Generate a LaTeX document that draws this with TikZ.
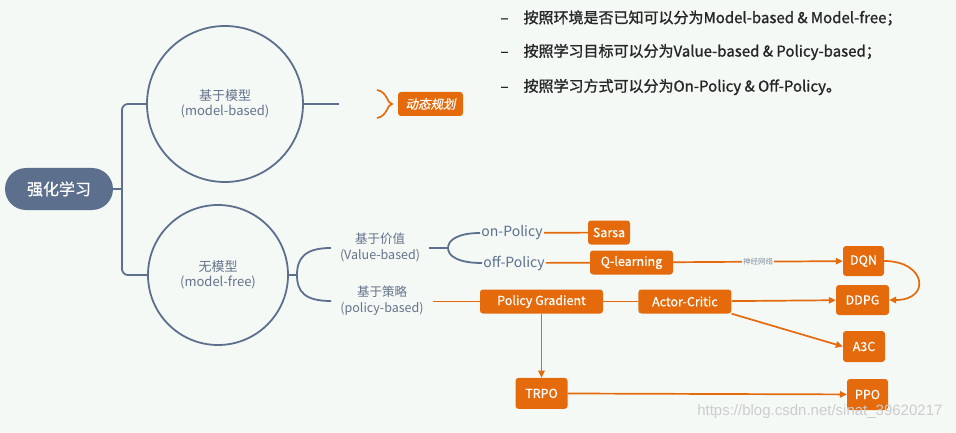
\documentclass[tikz,border=0pt]{standalone}
\usepackage{fontspec}
\setmainfont{Noto Sans CJK SC}
\newfontfamily\slantfont[FakeSlant=0.2, FakeBold=0.6]{Noto Sans CJK SC}
\newfontfamily\notefont[FakeBold=1.2]{Noto Sans CJK SC}
\newfontfamily\boxfont[FakeBold=0.7]{Noto Sans CJK SC}
\newfontfamily\urlfont{Liberation Sans}
\usetikzlibrary{arrows.meta, positioning}
\definecolor{bgcol}{RGB}{245,249,246}
\definecolor{slate}{RGB}{92,112,142}
\definecolor{slatetext}{RGB}{100,114,138}
\definecolor{rlorange}{RGB}{228,106,12}

\begin{document}
\begin{tikzpicture}[
    x=1pt, y=-1pt,
    every node/.style={font=\fontsize{12}{14}\selectfont},
    root/.style={fill=slate, text=white, rounded corners=21pt, minimum width=108pt, minimum height=42pt, font=\boxfont\fontsize{16}{18}\selectfont},
    branch/.style={circle, draw=slate, line width=1.8pt, text=slatetext, align=center, inner sep=0pt, font=\fontsize{13}{15}\selectfont},
    sub/.style={text=slatetext, align=center, inner sep=1pt, font=\fontsize{12.5}{16}\selectfont},
    way/.style={text=slate, inner sep=1pt, font=\fontsize{14}{15}\selectfont},
    algo/.style={fill=rlorange, text=white, rounded corners=3pt, minimum height=24pt, inner sep=2pt, font=\boxfont\fontsize{12.5}{14}\selectfont},
    link/.style={draw=slate, line width=1.8pt},
    oline/.style={draw=rlorange, line width=1.7pt},
    ar/.style={oline, -{Triangle[length=7pt, width=6.5pt]}},
    note/.style={anchor=west, text=black!85, font=\notefont\fontsize{15}{18}\selectfont}
]
\fill[bgcol] (0,0) rectangle (956,433);
\useasboundingbox (0,0) rectangle (956,433);
% ----- Notes top right -----
\node[note] (n1) at (497,18) {–\quad 按照环境是否已知可以分为Model-based \& Model-free；};
\node[note] (n2) at (497,52) {–\quad 按照学习目标可以分为Value-based \& Policy-based；};
\node[note] (n3) at (497,87) {–\quad 按照学习方式可以分为On-Policy \& Off-Policy。};
% ----- Root and the two branches -----
\node[root] (root) at (59,189) {强化学习};
\node[branch, minimum size=156pt] (mb) at (225,104) {基于模型\\(model-based)};
\node[branch, minimum size=140pt] (mf) at (218,275) {无模型\\(model-free)};
\coordinate (trunk) at (122,189);
\draw[link] (root.east) -- (trunk);
\draw[link, rounded corners=6pt] (mb.west) -| (trunk) |- (mf.west);
% model-based side
\coordinate (mbend) at (339,104);
\draw[link] (mb.east) -- (mbend);
\node[algo, font=\slantfont\fontsize{12.5}{14}\selectfont, minimum width=65pt] (dp) at (430.5,104) {动态规划};
\draw[oline] (377,90) .. controls (388,92) and (387,104) .. (392,104) .. controls (387,104) and (388,116) .. (377,118);
% ----- model-free side -----
\node[sub] (vb) at (380,247) {基于价值\\(Value-based)};
\node[sub] (pb) at (382,301) {基于策略\\(policy-based)};
\coordinate (mfj) at (297,275);
\draw[link] (mf.east) -- (mfj);
\draw[link] ([xshift=-8pt]vb.west |- 0,248) .. controls (305,248) and (297,258) .. (mfj) .. controls (297,292) and (305,301) .. ([xshift=-8pt]pb.west);
\node[way] (onp) at (512,233) {on-Policy};
\node[way] (offp) at (514,263) {off-Policy};
\coordinate (vbj) at (448,248);
\draw[link] ([xshift=8pt]vb.east |- vbj) -- (vbj);
\draw[link] (onp.west) .. controls (458,233) and (448,240) .. (vbj) .. controls (448,256) and (458,263) .. (offp.west);
% algorithms
\node[algo, minimum width=42pt] (sarsa) at (609,232.5) {Sarsa};
\node[algo, minimum width=83pt] (ql) at (631.5,262.5) {Q-learning};
\node[algo, minimum width=123pt] (pg) at (541.5,301.5) {Policy Gradient};
\node[algo, minimum width=93pt, right=35pt of pg] (ac) {Actor-Critic};
\node[algo, minimum width=41pt, minimum height=30pt] (dqn) at (863.5,261) {DQN};
\node[algo, minimum width=53pt, minimum height=30pt] (ddpg) at (862.5,300) {DDPG};
\node[algo, minimum width=42pt, minimum height=31pt] (a3c) at (864,346.5) {A3C};
\node[algo, minimum width=52pt, minimum height=31pt, below=64pt of pg] (trpo) {TRPO};
\node[algo, minimum width=41pt, minimum height=31pt] (ppo) at (867.5,394.5) {PPO};
% connectors
\draw[oline] (onp) -- (sarsa);
\draw[oline] (offp) -- (ql);
\draw[oline] ([xshift=8pt]pb.east |- pg) -- (pg);
\draw[oline] (pg) -- (ac);
\draw[ar] (ql) -- node[fill=bgcol, text=slatetext!80, font=\fontsize{7.5}{8}\selectfont, inner sep=1pt]{神经网络} (dqn);
\draw[ar] (dqn.east) .. controls +(42,0) and +(42,0) .. (ddpg.east);
\draw[ar] (ac) -- (ddpg);
\draw[ar] (ac.south east) -- (a3c.west);
\draw[ar] (pg) -- (trpo);
\draw[ar] (trpo) -- (ppo);
% watermark
\node[anchor=east, text=gray!40, font=\urlfont\fontsize{15}{17}\selectfont] (wm) at (946,412) {https://blog.csdn.net/sinat\_39620217};
\end{tikzpicture}
\end{document}
